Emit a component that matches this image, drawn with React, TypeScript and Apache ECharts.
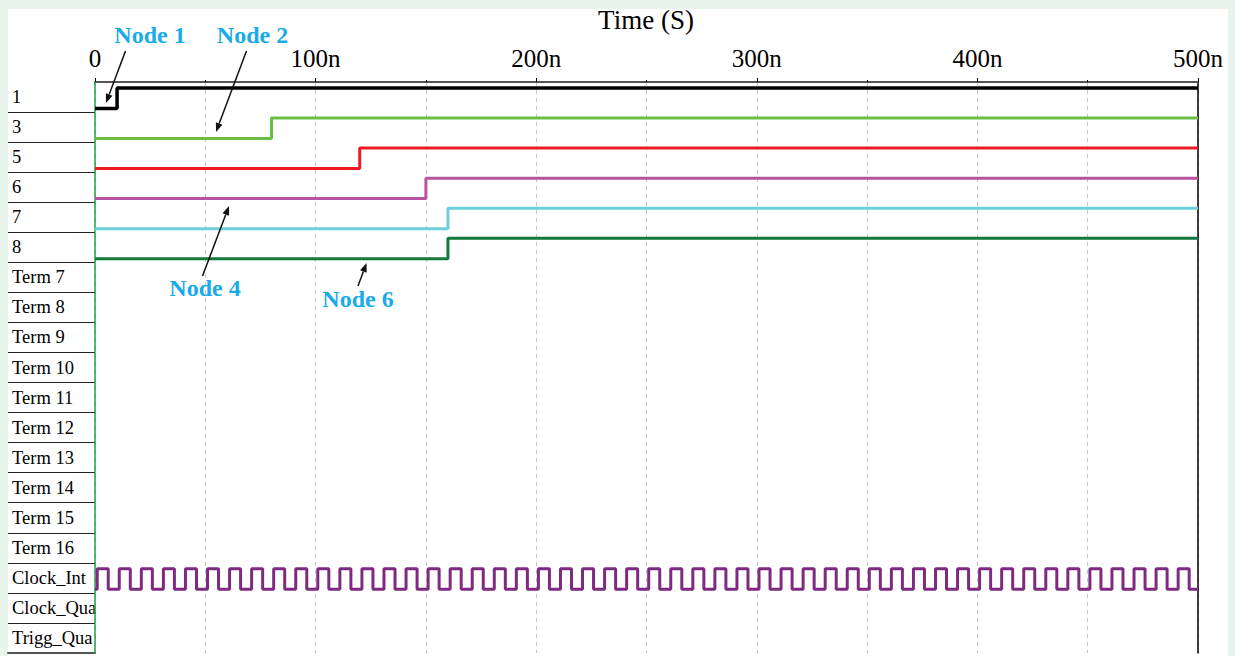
import React, { useEffect, useRef } from "react";
import * as echarts from "echarts";

// ---- data ----
const rowNames = [
  "1", "3", "5", "6", "7", "8",
  "Term 7", "Term 8", "Term 9", "Term 10", "Term 11", "Term 12",
  "Term 13", "Term 14", "Term 15", "Term 16",
  "Clock_Int", "Clock_Qua", "Trigg_Qua",
];
const xTickValues = [0, 100, 200, 300, 400, 500]; // ns
const signalNames = ["1", "3", "5", "6", "7", "8"];
const signalRiseTimes = [10, 80, 120, 150, 160, 160]; // ns, low -> high
const signalColors = ["#000000", "#6cbd45", "#ec1c24", "#b9529f", "#6dcfdc", "#127a3b"];
const signalWidths = [3.5, 3, 3, 3, 3, 3];
const clockName = "Clock_Int";
const clockColor = "#7f2a81";
// alternating rising / falling edges of Clock_Int (ns)
const clockEdges = [
  1, 6, 11, 16, 21, 26, 31, 36, 41, 46, 51, 56, 61, 66, 71, 76, 81, 86, 91, 96,
  101, 106, 111, 116, 121, 126, 131, 136, 141, 146, 151, 156, 161, 166, 171, 176, 181, 186, 191, 196,
  201, 206, 211, 216, 221, 226, 231, 236, 241, 246, 251, 256, 261, 266, 271, 276, 281, 286, 291, 296,
  301, 306, 311, 316, 321, 326, 331, 336, 341, 346, 351, 356, 361, 366, 371, 376, 381, 386, 391, 396,
  401, 406, 411, 416, 421, 426, 431, 436, 441, 446, 451, 456, 461, 466, 471, 476, 481, 486, 491, 496,
];
const annotations = [
  { text: "Node 1", x: 150, y: 35, from: [125.5, 51], to: [106, 103] },
  { text: "Node 2", x: 252.5, y: 35, from: [246.5, 51], to: [216, 132] },
  { text: "Node 4", x: 205, y: 288, from: [202.5, 276], to: [229, 206] },
  { text: "Node 6", x: 358, y: 299, from: [358, 286], to: [366.5, 263] },
];

const SERIF = "'Liberation Serif', 'Times New Roman', serif";
const HIGH = 0.2;
const LOW = 0.88;

function arrow(from: number[], to: number[]) {
  const dx = to[0] - from[0];
  const dy = to[1] - from[1];
  const len = Math.sqrt(dx * dx + dy * dy);
  const ux = dx / len, uy = dy / len;
  const nx = -uy, ny = ux;
  const hl = 9, hw = 3.5;
  const bx = to[0] - ux * hl, by = to[1] - uy * hl;
  return {
    type: "group",
    z: 100,
    children: [
      { type: "line", z: 100, shape: { x1: from[0], y1: from[1], x2: bx, y2: by }, style: { stroke: "#111", lineWidth: 1.5 } },
      {
        type: "polygon",
        z: 100,
        shape: { points: [[to[0], to[1]], [bx + nx * hw, by + ny * hw], [bx - nx * hw, by - ny * hw]] },
        style: { fill: "#111" },
      },
    ],
  };
}

export default function App() {
  const ref = useRef<HTMLDivElement>(null);

  useEffect(() => {
    if (!ref.current) return;
    const chart = echarts.init(ref.current, null, { renderer: "svg" });

    const series: any[] = signalNames.map((name, i) => {
      const row = rowNames.indexOf(name);
      return {
        name,
        type: "line",
        xAxisIndex: 0,
        yAxisIndex: 0,
        step: "end",
        symbol: "none",
        silent: true,
        z: 5,
        lineStyle: { color: signalColors[i], width: signalWidths[i] },
        data: [
          [0, row + LOW],
          [signalRiseTimes[i], row + HIGH],
          [500, row + HIGH],
        ],
      };
    });

    const clockRow = rowNames.indexOf(clockName);
    const clockData: number[][] = [[0, clockRow + LOW]];
    clockEdges.forEach((t, j) => {
      clockData.push([t, clockRow + (j % 2 === 0 ? HIGH : LOW)]);
    });
    clockData.push([500, clockRow + LOW]);
    series.push({
      name: clockName,
      type: "line",
      xAxisIndex: 0,
      yAxisIndex: 0,
      step: "end",
      symbol: "none",
      silent: true,
      z: 5,
      lineStyle: { color: clockColor, width: 3 },
      data: clockData,
    });

    const graphics: any[] = [
      {
        type: "text",
        x: 646,
        y: 20,
        z: 100,
        style: { text: "Time (S)", font: `27px ${SERIF}`, fill: "#000", textAlign: "center", textVerticalAlign: "middle" },
      },
    ];
    annotations.forEach((a) => {
      graphics.push({
        type: "text",
        x: a.x,
        y: a.y,
        z: 100,
        style: { text: a.text, font: `bold 24px ${SERIF}`, fill: "#1aabe8", textAlign: "center", textVerticalAlign: "middle" },
      });
      graphics.push(arrow(a.from, a.to));
    });

    chart.setOption({
      animation: false,
      backgroundColor: "transparent",
      grid: [
        { left: 95, top: 82, width: 1103, height: 571 },
        { left: 8, top: 82, width: 87, height: 571 },
      ],
      xAxis: [
        {
          gridIndex: 0,
          type: "value",
          position: "top",
          min: xTickValues[0],
          max: xTickValues[xTickValues.length - 1],
          interval: 100,
          axisLine: { show: true, lineStyle: { color: "#000", width: 1 } },
          axisTick: { show: true, length: 4, lineStyle: { color: "#000", width: 1 } },
          minorTick: { show: true, splitNumber: 2, length: 2, lineStyle: { color: "#000", width: 1 } },
          axisLabel: {
            margin: 11,
            fontSize: 25,
            fontFamily: SERIF,
            color: "#000",
            showMinLabel: true,
            showMaxLabel: true,
            formatter: (v: number) => (v === 0 ? "0" : `${v}n`),
          },
          splitLine: { show: true, lineStyle: { type: [4, 4], color: "#c4c4c4", width: 1 } },
          minorSplitLine: { show: true, lineStyle: { type: [4, 4], color: "#c4c4c4", width: 1 } },
        },
        {
          gridIndex: 0,
          type: "value",
          position: "bottom",
          min: 0,
          max: 500,
          axisLine: { show: true, lineStyle: { color: "#555", width: 2 } },
          axisTick: { show: false },
          axisLabel: { show: false },
          splitLine: { show: false },
        },
        {
          gridIndex: 1,
          type: "value",
          position: "bottom",
          min: 0,
          max: 1,
          axisLine: { show: true, lineStyle: { color: "#555", width: 2 } },
          axisTick: { show: false },
          axisLabel: { show: false },
          splitLine: { show: false },
        },
      ],
      yAxis: [
        {
          gridIndex: 0,
          type: "value",
          min: 0,
          max: rowNames.length,
          inverse: true,
          z: 4,
          axisLine: { show: true, onZero: false, lineStyle: { color: "#22a04b", width: 1.5 } },
          axisTick: { show: false },
          axisLabel: { show: false },
          splitLine: { show: false },
        },
        {
          gridIndex: 0,
          type: "value",
          position: "right",
          min: 0,
          max: rowNames.length,
          inverse: true,
          axisLine: { show: true, onZero: false, lineStyle: { color: "#000", width: 1.5 } },
          axisTick: { show: false },
          axisLabel: { show: false },
          splitLine: { show: false },
        },
        {
          gridIndex: 1,
          type: "category",
          data: rowNames,
          inverse: true,
          axisLine: { show: false },
          axisTick: { show: false },
          axisLabel: {
            inside: true,
            interval: 0,
            margin: 4,
            fontSize: 18.5,
            fontFamily: SERIF,
            color: "#000",
            align: "left",
          },
          splitLine: {
            show: true,
            interval: 0,
            showMinLine: false,
            showMaxLine: false,
            lineStyle: { color: "#222", width: 1 },
          },
        },
      ],
      series,
      graphic: graphics,
    });

    return () => chart.dispose();
  }, []);

  return (
    <div style={{ position: "fixed", left: 0, top: 0, width: 1235, height: 656, background: "#e9f5ec", overflow: "hidden" }}>
      <div style={{ position: "absolute", left: 8, top: 9, width: 1220, height: 647, background: "#ffffff" }} />
      <div ref={ref} style={{ position: "absolute", left: 0, top: 0, width: 1235, height: 656 }} />
    </div>
  );
}
